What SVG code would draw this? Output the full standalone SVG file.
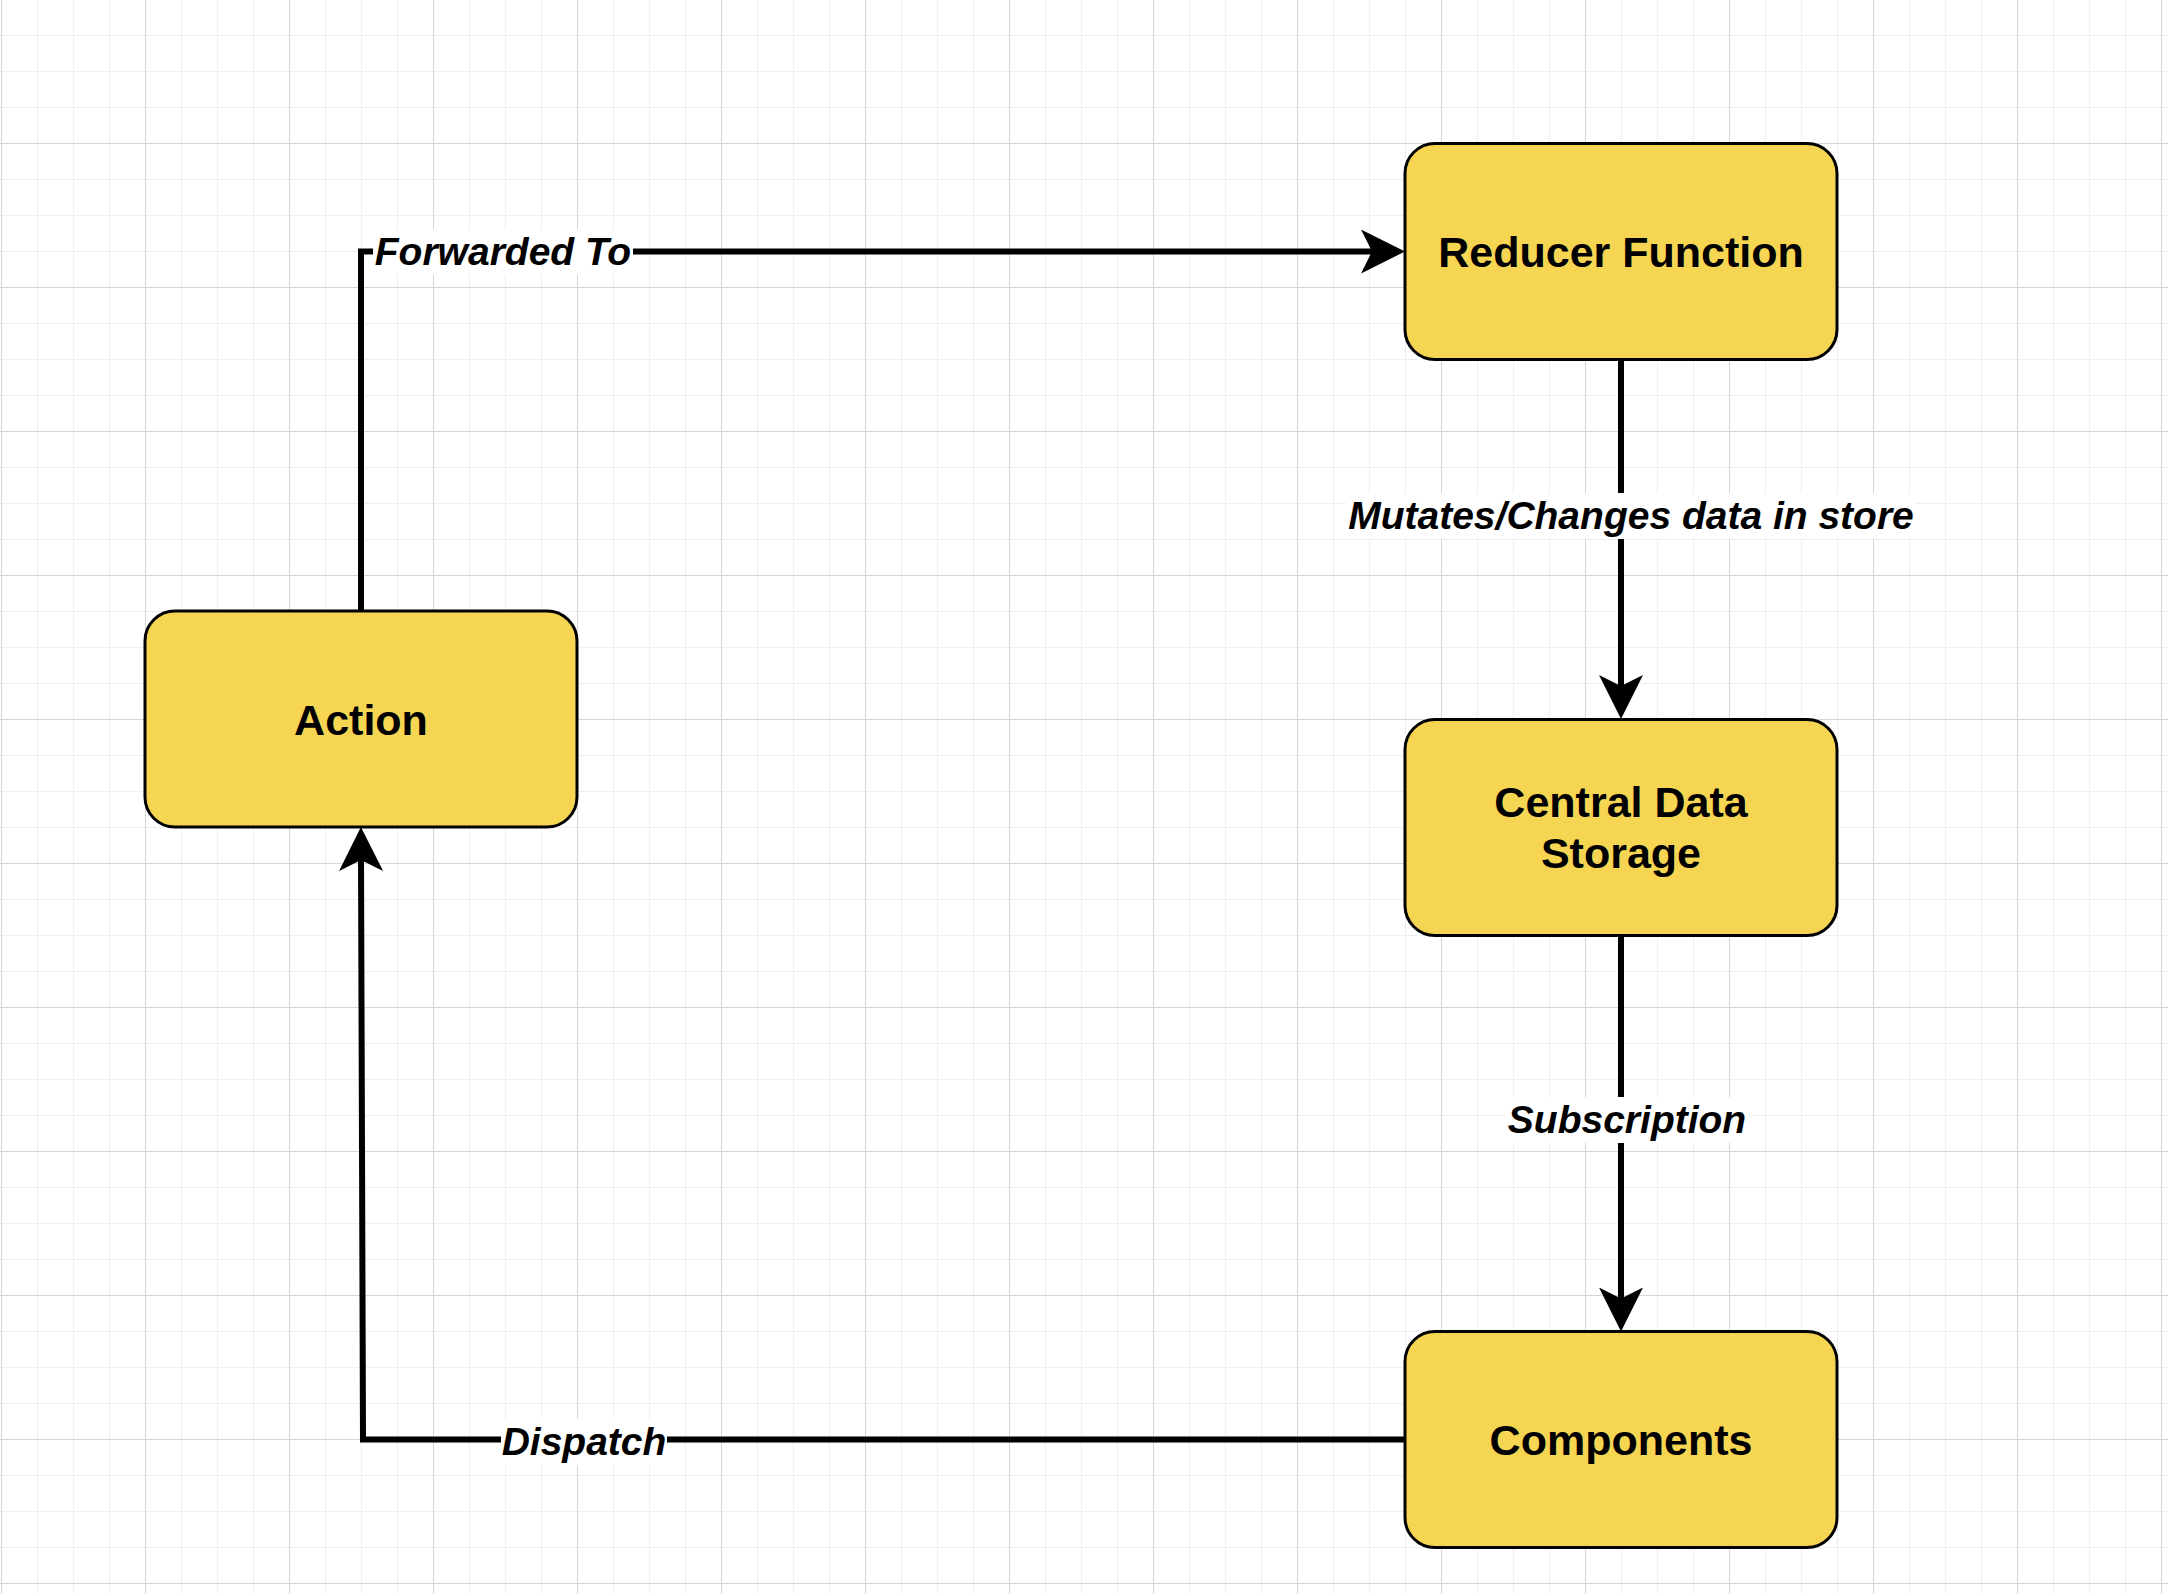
<svg xmlns="http://www.w3.org/2000/svg" width="2168" height="1594" viewBox="0 0 2168 1594">
  <style>
    .node rect { fill: #F6D552; stroke: #000000; stroke-width: 3; }
    .node text { font-family: "Liberation Sans", Arial, Helvetica, sans-serif; font-weight: bold; font-size: 43px; fill: #000000; text-anchor: middle; }
    .edge { fill: none; stroke: #000000; stroke-width: 6; stroke-linejoin: miter; marker-end: url(#arrow); }
    .edge-nomark { fill: none; stroke: #000000; stroke-width: 6; stroke-linejoin: miter; }
    .lbl-bg { fill: #ffffff; }
    .lbl { font-family: "Liberation Sans", Arial, Helvetica, sans-serif; font-weight: bold; font-style: italic; font-size: 39px; fill: #000000; text-anchor: middle; }
  </style>
  <defs>
    <pattern id="grid" x="1" y="-1" width="144" height="144" patternUnits="userSpaceOnUse">
      <rect x="36" y="0" width="1" height="144" fill="#efefef"/>
      <rect x="72" y="0" width="1" height="144" fill="#efefef"/>
      <rect x="108" y="0" width="1" height="144" fill="#efefef"/>
      <rect x="0" y="36" width="144" height="1" fill="#efefef"/>
      <rect x="0" y="72" width="144" height="1" fill="#efefef"/>
      <rect x="0" y="108" width="144" height="1" fill="#efefef"/>
      <rect x="0" y="0" width="1" height="144" fill="#d6d6d6"/>
      <rect x="0" y="0" width="144" height="1" fill="#d6d6d6"/>
    </pattern>
    <marker id="arrow" viewBox="0 -22 44 44" refX="14" refY="0" markerWidth="44" markerHeight="44" markerUnits="userSpaceOnUse" orient="auto">
      <path d="M44,0 L0,-22 L11,0 L0,22 Z" fill="#000000"/>
    </marker>
  </defs>

  <rect x="0" y="0" width="2168" height="1594" fill="#ffffff"/>
  <rect x="0" y="0" width="2168" height="1594" fill="url(#grid)"/>

  <g id="connectors">
    <path class="edge" d="M361,611 V251.5 H1375"/>
    <path class="edge" d="M1621,359.5 V689"/>
    <path class="edge" d="M1621,935.5 V1301.5"/>
    <path class="edge" d="M1405,1439.5 H363 L361,857"/>

    <g id="label-forwarded">
      <rect class="lbl-bg" x="373" y="229" width="260" height="46"/>
      <text class="lbl" x="503" y="265">Forwarded To</text>
    </g>
    <g id="label-mutates">
      <rect class="lbl-bg" x="1346" y="493" width="570" height="46"/>
      <text class="lbl" x="1631" y="529">Mutates/Changes data in store</text>
    </g>
    <g id="label-subscription">
      <rect class="lbl-bg" x="1506" y="1097" width="242" height="46"/>
      <text class="lbl" x="1627" y="1133">Subscription</text>
    </g>
    <g id="label-dispatch">
      <rect class="lbl-bg" x="501" y="1419" width="166" height="46"/>
      <text class="lbl" x="584" y="1455">Dispatch</text>
    </g>
  </g>

  <g id="node-reducer" class="node">
    <rect x="1405" y="143.5" width="432" height="216" rx="30" ry="30"/>
    <text x="1621" y="267">Reducer Function</text>
  </g>
  <g id="node-central" class="node">
    <rect x="1405" y="719.5" width="432" height="216" rx="30" ry="30"/>
    <text x="1621" y="817">Central Data</text>
    <text x="1621" y="868">Storage</text>
  </g>
  <g id="node-components" class="node">
    <rect x="1405" y="1331.5" width="432" height="216" rx="30" ry="30"/>
    <text x="1621" y="1455">Components</text>
  </g>
  <g id="node-action" class="node">
    <rect x="145" y="611" width="432" height="216" rx="30" ry="30"/>
    <text x="361" y="735">Action</text>
  </g>
</svg>
